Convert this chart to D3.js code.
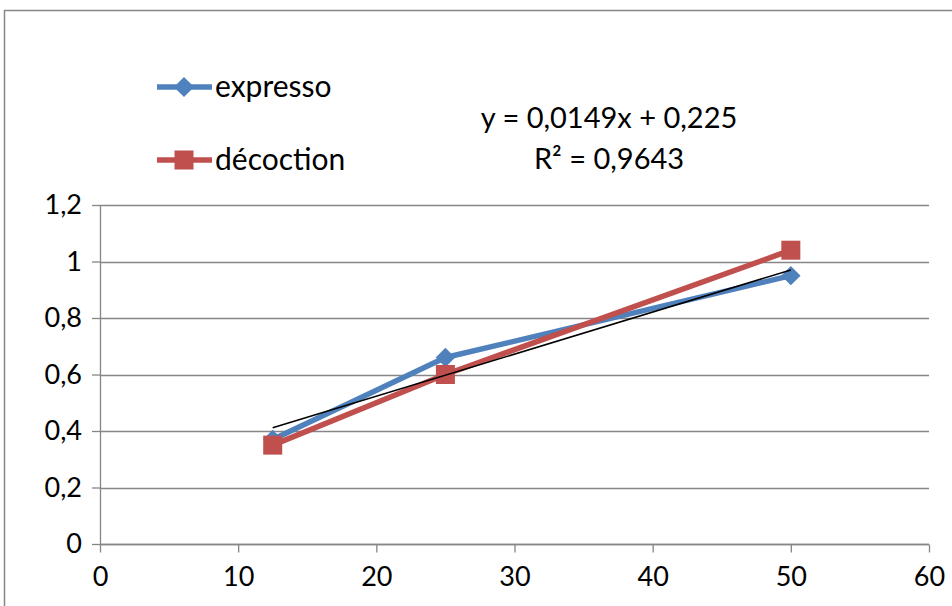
<!DOCTYPE html>
<html><head><meta charset="utf-8">
<script src="https://cdn.jsdelivr.net/npm/d3@7"></script>
<style>body{margin:0;background:#fff;}svg{display:block;}</style>
</head><body>
<svg id="c" width="952" height="606"></svg>
<script>
const xValues = [12.5, 25, 50];
const expresso = [0.37, 0.66, 0.95];
const decoction = [0.35, 0.60, 1.04];
const xTicks = [0, 10, 20, 30, 40, 50, 60];
const yTicks = [0, 0.2, 0.4, 0.6, 0.8, 1, 1.2];
const trendSlope = 0.0149, trendIntercept = 0.225;
const trendLabel1 = "y = 0,0149x + 0,225";
const trendLabel2 = "R² = 0,9643";
const seriesNames = ["expresso", "décoction"];

const svg = d3.select("#c");
const font = "Lato, 'Open Sans', sans-serif";
const gray = "#868686";
const blue = "#4F81BD", red = "#C0504D";

svg.append("rect").attr("x", 4.5).attr("y", 10.5).attr("width", 1200).attr("height", 1200)
  .attr("fill", "none").attr("stroke", gray).attr("stroke-width", 1.5);

const x = d3.scaleLinear().domain([0, 60]).range([100, 929]);
const y = d3.scaleLinear().domain([0, 1.2]).range([544, 205]);
const fmt = d => String(d).replace(".", ",");

// gridlines
svg.append("g").selectAll("line").data(yTicks).join("line")
  .attr("x1", x(0)).attr("x2", x(60))
  .attr("y1", d => Math.round(y(d)) + 0.5).attr("y2", d => Math.round(y(d)) + 0.5)
  .attr("stroke", gray).attr("stroke-width", 1.3);

// y axis
const ya = svg.append("g").attr("transform", `translate(${x(0)},0)`)
  .call(d3.axisLeft(y).tickValues(yTicks).tickFormat(fmt).tickSize(8).tickPadding(10));
ya.select(".domain").attr("stroke", gray).attr("stroke-width", 1.3).attr("d", `M0.5,${y(1.2)}V${y(0)}`);
ya.selectAll(".tick line").attr("stroke", gray).attr("stroke-width", 1.3);
ya.selectAll(".tick text").attr("font-family", font).attr("font-size", 27).attr("fill", "#000");

// x axis
const xa = svg.append("g").attr("transform", `translate(0,${Math.round(y(0)) + 0.5})`)
  .call(d3.axisBottom(x).tickValues(xTicks).tickSize(8).tickPadding(14));
xa.select(".domain").attr("stroke", gray).attr("stroke-width", 1.3).attr("d", `M${x(0)},0H${x(60)}`);
xa.selectAll(".tick line").attr("stroke", gray).attr("stroke-width", 1.3);
xa.selectAll(".tick text").attr("font-family", font).attr("font-size", 27).attr("fill", "#000");

const line = d3.line().x(d => x(d[0])).y(d => y(d[1]));
const eData = xValues.map((v, i) => [v, expresso[i]]);
const dData = xValues.map((v, i) => [v, decoction[i]]);

svg.append("path").datum(eData).attr("d", line).attr("fill", "none")
  .attr("stroke", blue).attr("stroke-width", 5.5).attr("stroke-linejoin", "round");
svg.append("g").selectAll("path").data(eData).join("path")
  .attr("d", d3.symbol(d3.symbolDiamond2, 240)).attr("transform", d => `translate(${x(d[0])},${y(d[1])})`)
  .attr("fill", blue);

svg.append("path").datum(dData).attr("d", line).attr("fill", "none")
  .attr("stroke", red).attr("stroke-width", 5.5).attr("stroke-linejoin", "round");
svg.append("g").selectAll("rect").data(dData).join("rect")
  .attr("x", d => x(d[0]) - 9.5).attr("y", d => y(d[1]) - 9.5).attr("width", 19).attr("height", 19)
  .attr("fill", red);

// trendline
const tx = d3.extent(xValues);
svg.append("path").datum(tx.map(v => [v, trendSlope * v + trendIntercept]))
  .attr("d", line).attr("fill", "none").attr("stroke", "#000").attr("stroke-width", 1.6);

svg.append("text").attr("x", 609).attr("y", 128).attr("text-anchor", "middle")
  .attr("font-family", font).attr("font-size", 29).text(trendLabel1);
svg.append("text").attr("x", 609).attr("y", 169).attr("text-anchor", "middle")
  .attr("font-family", font).attr("font-size", 29).text(trendLabel2);

// legend
const lg = svg.append("g");
lg.append("line").attr("x1", 157).attr("x2", 212).attr("y1", 87).attr("y2", 87).attr("stroke", blue).attr("stroke-width", 5.5);
lg.append("path").attr("d", d3.symbol(d3.symbolDiamond2, 260)).attr("transform", "translate(184,87)").attr("fill", blue);
lg.append("text").attr("x", 215).attr("y", 97).attr("font-family", font).attr("font-size", 30).text(seriesNames[0]);
lg.append("line").attr("x1", 157).attr("x2", 212).attr("y1", 160).attr("y2", 160).attr("stroke", red).attr("stroke-width", 5.5);
lg.append("rect").attr("x", 174.5).attr("y", 150.5).attr("width", 19).attr("height", 19).attr("fill", red);
lg.append("text").attr("x", 215).attr("y", 170).attr("font-family", font).attr("font-size", 30).text(seriesNames[1]);
</script>
</body></html>
